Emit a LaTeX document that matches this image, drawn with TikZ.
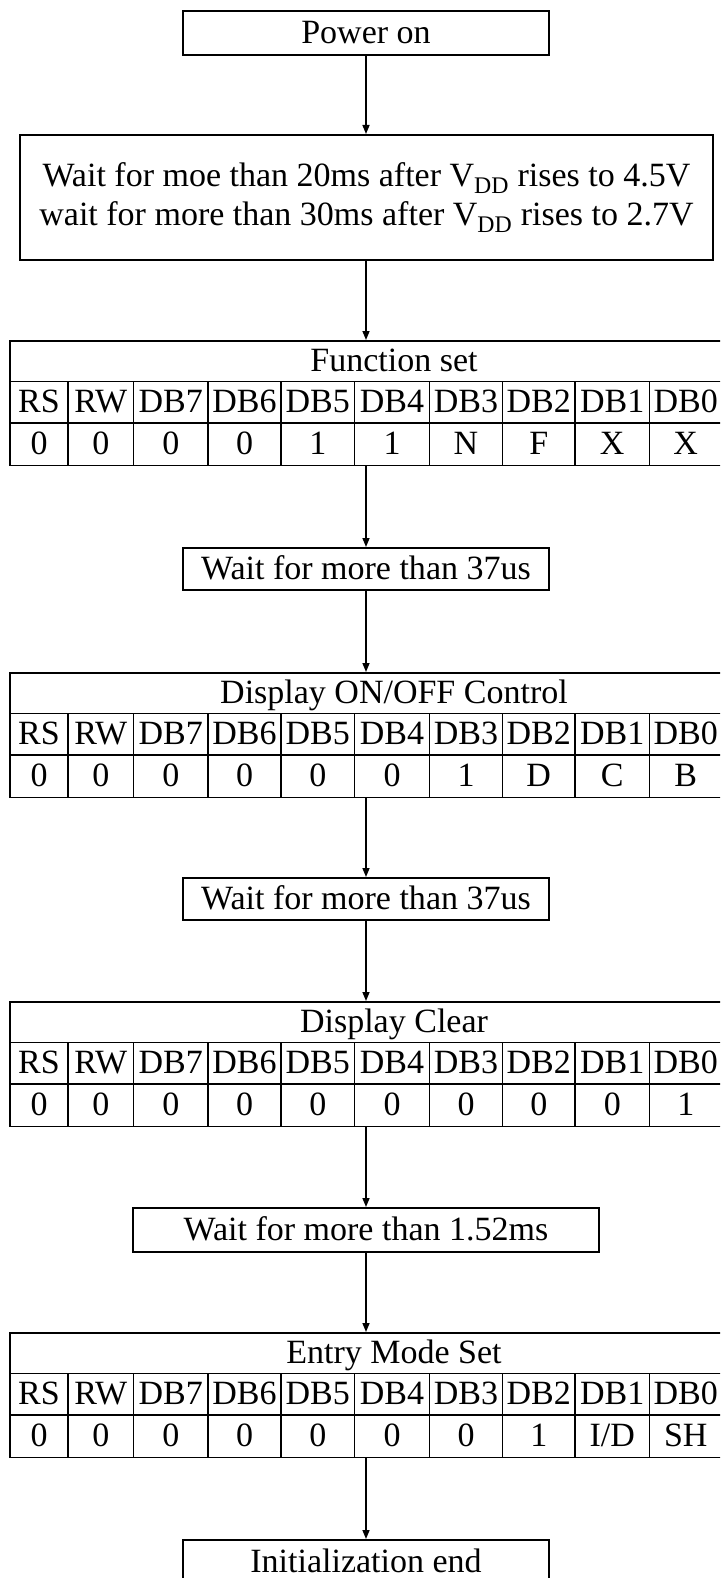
\documentclass[tikz,border=0pt]{standalone}
\usepackage{fontspec}
\setmainfont{Liberation Serif}
\usetikzlibrary{arrows.meta}
\newcommand\fs{\fontsize{34}{40}\selectfont}
\tikzset{
  boxbase/.style={draw, line width=1.8pt, inner sep=0pt, font=\fs, anchor=north},
  box/.style={boxbase, text height=22pt, text depth=0pt},
  tbl/.style={draw, line width=1.8pt, inner sep=0pt, anchor=north},
  txt/.style={inner sep=0pt, font=\fs, text height=22pt, text depth=0pt},
  gridline/.style={line width=1.5pt},
  arr/.style={line width=1.5pt, -{Triangle[length=9pt,width=7pt]}}
}
\def\colx{{39,100.75,170.75,244.5,317.75,392,466,538.75,612.25,685.75}}
\def\coledges{68,133.5,208,281,354.5,429.5,502.5,575,649.5}
\newcommand\regtable[4]{%
  \node[tbl, minimum width=712pt, minimum height=124.5pt] (#1) at (366pt,-#2pt) {};
  \node[txt] (#1t) at (394pt,{-(#2+20.75)*1pt}) {#3};
  \draw[gridline] (10pt,{-(#2+41.5)*1pt}) -- (722pt,{-(#2+41.5)*1pt});
  \draw[gridline] (10pt,{-(#2+83)*1pt}) -- (722pt,{-(#2+83)*1pt});
  \foreach \x in \coledges {\draw[gridline] (\x pt,{-(#2+41.5)*1pt}) -- (\x pt,{-(#2+124.5)*1pt});}
  \foreach \lab [count=\i from 0] in {RS,RW,DB7,DB6,DB5,DB4,DB3,DB2,DB1,DB0}{
    \pgfmathsetmacro\cx{\colx[\i]}
    \node[txt] (#1h\i) at (\cx pt,{-(#2+61.5)*1pt}) {\lab};
  }
  \foreach \v [count=\i from 0] in {#4}{
    \pgfmathsetmacro\cx{\colx[\i]}
    \node[txt] (#1v\i) at (\cx pt,{-(#2+103.25)*1pt}) {\v};
  }
}
\begin{document}
\begin{tikzpicture}
\useasboundingbox (0,0) rectangle (720pt,-1578pt);
\clip (0,0) rectangle (720pt,-1578pt);
\fill[white] (0,0) rectangle (720pt,-1578pt);

\node[box, minimum width=366pt, minimum height=44pt] (power) at (366pt,-10pt) {Power on};
\node[boxbase, minimum width=693pt, minimum height=125pt, align=center] (wait0) at (366.5pt,-134pt)
  {Wait for moe than 20ms after V\textsubscript{DD} rises to 4.5V\\[-1pt]
   wait for more than 30ms after V\textsubscript{DD} rises to 2.7V};
\regtable{fset}{340}{Function set}{0,0,0,0,1,1,N,F,X,X}
\node[box, minimum width=366pt, minimum height=42pt] (w1) at (366pt,-547pt) {Wait for more than 37us};
\regtable{disp}{672}{Display ON/OFF Control}{0,0,0,0,0,0,1,D,C,B}
\node[box, minimum width=366pt, minimum height=42pt] (w2) at (366pt,-877pt) {Wait for more than 37us};
\regtable{clr}{1001}{Display Clear}{0,0,0,0,0,0,0,0,0,1}
\node[box, minimum width=466pt, minimum height=44pt] (w3) at (366pt,-1207pt) {Wait for more than 1.52ms};
\regtable{entry}{1332}{Entry Mode Set}{0,0,0,0,0,0,0,1,I/D,SH}
\node[box, minimum width=366pt, minimum height=44pt] (init) at (366pt,-1539pt) {Initialization end};

\draw[arr] (power.south) -- (wait0.north -| power.south);
\draw[arr] (wait0.south -| power.south) -- (fset.north);
\draw[arr] (fset.south) -- (w1.north);
\draw[arr] (w1.south) -- (disp.north);
\draw[arr] (disp.south) -- (w2.north);
\draw[arr] (w2.south) -- (clr.north);
\draw[arr] (clr.south) -- (w3.north);
\draw[arr] (w3.south) -- (entry.north);
\draw[arr] (entry.south) -- (init.north);
\end{tikzpicture}
\end{document}
